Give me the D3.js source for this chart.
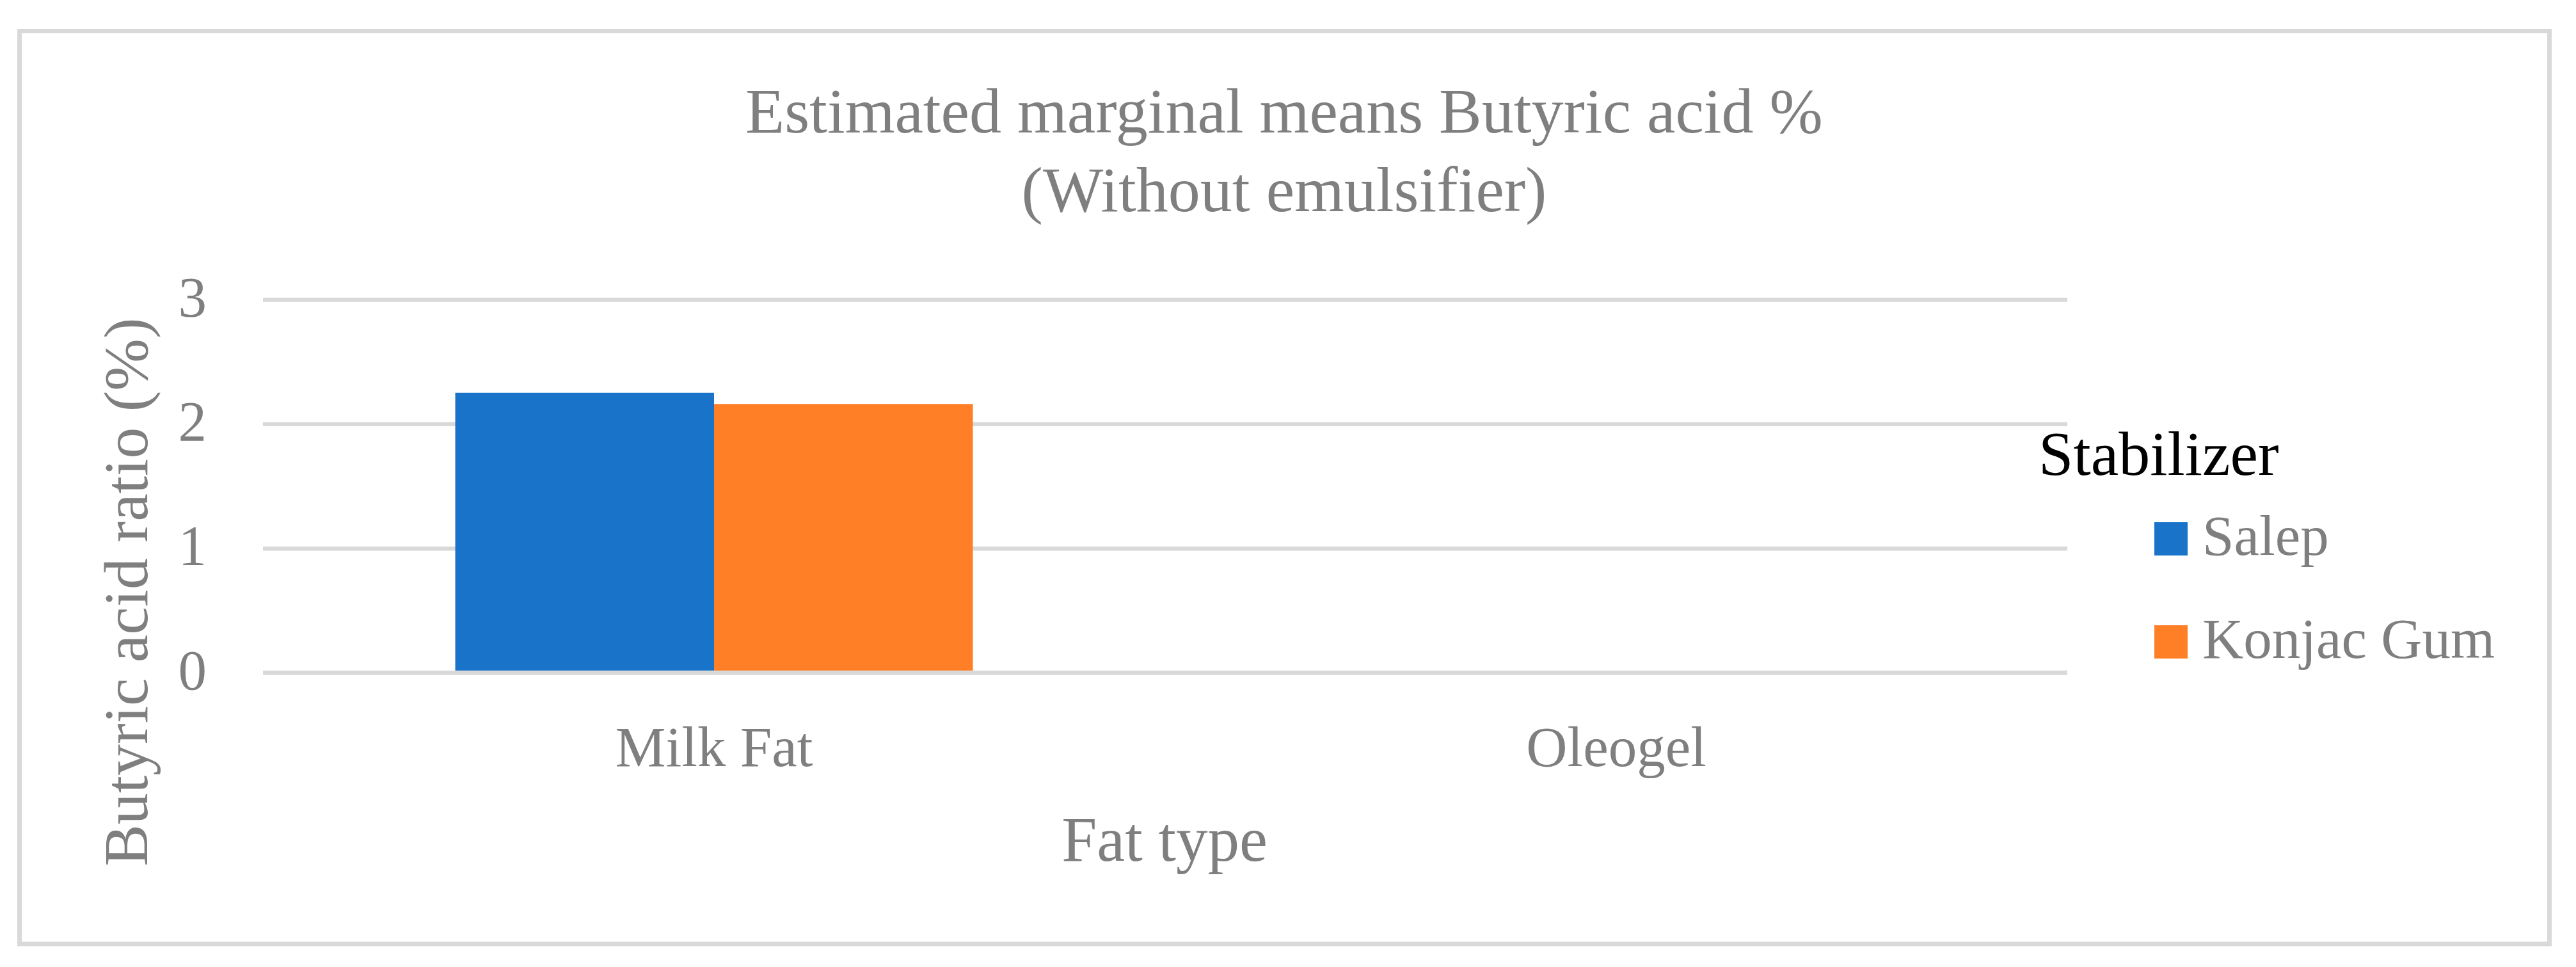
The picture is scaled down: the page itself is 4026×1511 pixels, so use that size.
<!DOCTYPE html>
<html>
<head>
<meta charset="utf-8">
<script src="https://cdn.jsdelivr.net/npm/d3@7"></script>
<style>
  html, body { margin: 0; padding: 0; background: #ffffff; }
  svg { display: block; }
  text { font-family: "Liberation Serif", "Times New Roman", serif; }
</style>
</head>
<body>
<script>
// ---- data ----
const fatTypes = ["Milk Fat", "Oleogel"];
const stabilizers = ["Salep", "Konjac Gum"];
const salepValues = [2.25, null];
const konjacValues = [2.16, null];
const yTicks = [0, 1, 2, 3];
const titleLines = ["Estimated marginal means Butyric acid %", "(Without emulsifier)"];
const xTitle = "Fat type";
const yTitle = "Butyric acid ratio (%)";
const legendTitle = "Stabilizer";
const colors = ["#1873C9", "#FF7F27"];

// ---- layout ----
const W = 4026, H = 1511;
const plot = { left: 411, right: 3231, top: 468, bottom: 1051 };
const gray = "#7F7F7F";
const gridColor = "#D9D9D9";

const svg = d3.select("body").append("svg")
  .attr("width", W).attr("height", H)
  .attr("viewBox", `0 0 ${W} ${H}`);

svg.append("rect").attr("width", W).attr("height", H).attr("fill", "#fff");

// chart border
svg.append("rect")
  .attr("x", 30.5).attr("y", 48.5)
  .attr("width", 3954).attr("height", 1426.5)
  .attr("fill", "none").attr("stroke", gridColor).attr("stroke-width", 7);

const y = d3.scaleLinear().domain([0, 3]).range([plot.bottom, plot.top]);
const x0 = d3.scaleBand().domain(fatTypes).range([plot.left, plot.right]).padding(0);
const x1 = d3.scaleBand().domain(stabilizers).range([0, x0.bandwidth()])
  .paddingInner(0).paddingOuter(0.743);
const color = d3.scaleOrdinal().domain(stabilizers).range(colors);

// gridlines via axis
const yGrid = d3.axisLeft(y).tickValues(yTicks)
  .tickSize(-(plot.right - plot.left)).tickFormat("");
const gGrid = svg.append("g").attr("transform", `translate(${plot.left},0)`).call(yGrid);
gGrid.select(".domain").remove();
gGrid.selectAll("line").attr("stroke", gridColor).attr("stroke-width", 6.5);

// tick labels
const yAxis = d3.axisLeft(y).tickValues(yTicks).tickSize(0).tickPadding(0).tickFormat(d3.format("d"));
const gY = svg.append("g").attr("transform", `translate(323,0)`).call(yAxis);
gY.select(".domain").remove();
gY.selectAll("text")
  .attr("fill", gray).attr("font-size", 89)
  .attr("font-family", "Liberation Serif, serif")
  .attr("dy", null).attr("y", 25).attr("x", 0);

// bars
const rows = fatTypes.map((f, i) => ({ fat: f, values: [salepValues[i], konjacValues[i]] }));
const groups = svg.append("g").selectAll("g").data(rows).join("g")
  .attr("transform", d => `translate(${x0(d.fat)},0)`);
groups.selectAll("rect")
  .data(d => d.values.map((v, j) => ({ key: stabilizers[j], value: v })).filter(e => e.value != null))
  .join("rect")
  .attr("x", d => x1(d.key))
  .attr("width", x1.bandwidth())
  .attr("y", d => y(d.value))
  .attr("height", d => y(0) - y(d.value))
  .attr("fill", d => color(d.key));

// baseline redrawn over bars
svg.append("line")
  .attr("x1", plot.left).attr("x2", plot.right)
  .attr("y1", y(0)).attr("y2", y(0))
  .attr("stroke", gridColor).attr("stroke-width", 6.5);

// x axis labels
const xAxis = d3.axisBottom(x0).tickSize(0).tickPadding(0);
const gX = svg.append("g").attr("transform", `translate(0,1197)`).call(xAxis);
gX.select(".domain").remove();
gX.selectAll("text")
  .attr("fill", gray).attr("font-size", 89)
  .attr("font-family", "Liberation Serif, serif")
  .attr("dy", null).attr("y", 0);

// title
svg.append("g").selectAll("text").data(titleLines).join("text")
  .attr("x", 2007)
  .attr("y", (d, i) => 207 + i * 123)
  .attr("text-anchor", "middle")
  .attr("fill", gray).attr("font-size", 100)
  .text(d => d);

// axis titles
svg.append("text")
  .attr("x", 1820).attr("y", 1345)
  .attr("text-anchor", "middle")
  .attr("fill", gray).attr("font-size", 99)
  .text(xTitle);

svg.append("text")
  .attr("transform", "translate(230,925) rotate(-90)")
  .attr("text-anchor", "middle")
  .attr("fill", gray).attr("font-size", 98)
  .text(yTitle);

// legend
const legend = svg.append("g");
legend.append("text")
  .attr("x", 3186).attr("y", 742)
  .attr("fill", "#000").attr("font-size", 98)
  .text(legendTitle);
const items = legend.selectAll("g.item").data(stabilizers).join("g")
  .attr("class", "item")
  .attr("transform", (d, i) => `translate(0,${i * 161})`);
items.append("rect")
  .attr("x", 3367).attr("y", 816)
  .attr("width", 52).attr("height", 52)
  .attr("fill", d => color(d));
items.append("text")
  .attr("x", 3442).attr("y", 867)
  .attr("fill", gray).attr("font-size", 89)
  .text(d => d);
</script>
</body>
</html>
